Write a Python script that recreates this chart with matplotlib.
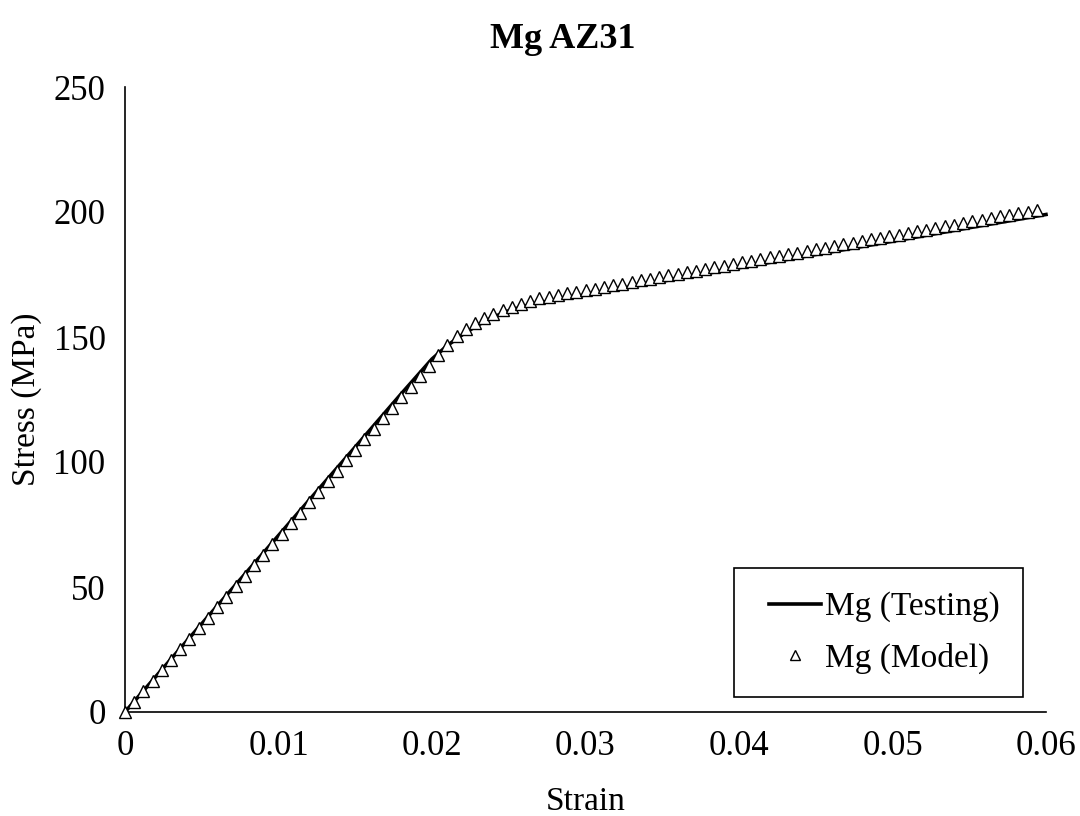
import matplotlib
matplotlib.use("Agg")
import matplotlib.pyplot as plt
from matplotlib.legend_handler import HandlerLine2D

plt.rcParams['font.family'] = ['Liberation Serif', 'DejaVu Serif']

# Testing curve (strain, stress MPa)
test_strain = [0, 0.005, 0.010, 0.015, 0.018, 0.020, 0.021, 0.022, 0.023, 0.024,
               0.025, 0.026, 0.027, 0.028, 0.030, 0.035, 0.040, 0.045, 0.050,
               0.055, 0.060]
test_stress = [0, 35.3, 70.6, 106.0, 127.3, 141.2, 146.6, 151.0, 154.8, 158.0,
               160.5, 162.3, 163.7, 164.8, 166.8, 172.3, 177.7, 183.0, 188.3,
               193.7, 199.0]

# Model points
model_strain = [0.0000, 0.0006, 0.0012, 0.0018, 0.0024, 0.0030, 0.0036, 0.0042, 0.0048, 0.0054,
                0.0060, 0.0066, 0.0072, 0.0078, 0.0084, 0.0090, 0.0096, 0.0102, 0.0108, 0.0114,
                0.0120, 0.0126, 0.0132, 0.0138, 0.0144, 0.0150, 0.0156, 0.0162, 0.0168, 0.0174,
                0.0180, 0.0186, 0.0192, 0.0198, 0.0204, 0.0210, 0.0216, 0.0222, 0.0228, 0.0234,
                0.0240, 0.0246, 0.0252, 0.0258, 0.0264, 0.0270, 0.0276, 0.0282, 0.0288, 0.0294,
                0.0300, 0.0306, 0.0312, 0.0318, 0.0324, 0.0330, 0.0336, 0.0342, 0.0348, 0.0354,
                0.0360, 0.0366, 0.0372, 0.0378, 0.0384, 0.0390, 0.0396, 0.0402, 0.0408, 0.0414,
                0.0420, 0.0426, 0.0432, 0.0438, 0.0444, 0.0450, 0.0456, 0.0462, 0.0468, 0.0474,
                0.0480, 0.0486, 0.0492, 0.0498, 0.0504, 0.0510, 0.0516, 0.0522, 0.0528, 0.0534,
                0.0540, 0.0546, 0.0552, 0.0558, 0.0564, 0.0570, 0.0576, 0.0582, 0.0588, 0.0594]
model_stress = [0.0, 4.2, 8.4, 12.6, 16.8, 21.0, 25.2, 29.4, 33.6, 37.8,
                42.0, 46.2, 50.4, 54.6, 58.8, 63.0, 67.2, 71.4, 75.6, 79.8,
                84.0, 88.2, 92.4, 96.6, 100.8, 105.0, 109.2, 113.4, 117.6, 121.8,
                126.0, 130.2, 134.4, 138.6, 142.8, 147.0, 150.6, 153.4, 155.7, 157.7,
                159.4, 160.9, 162.1, 163.2, 164.4, 165.5, 166.2, 166.8, 167.5, 168.1,
                168.8, 169.4, 170.1, 170.7, 171.4, 172.1, 172.7, 173.4, 174.0, 174.7,
                175.3, 176.0, 176.6, 177.3, 177.9, 178.6, 179.3, 179.9, 180.6, 181.2,
                181.9, 182.5, 183.2, 183.8, 184.5, 185.2, 185.8, 186.5, 187.1, 187.8,
                188.4, 189.1, 189.7, 190.4, 191.0, 191.7, 192.4, 193.0, 193.7, 194.3,
                195.0, 195.6, 196.3, 196.9, 197.6, 198.3, 198.9, 199.6, 200.2, 200.9]

x_ticks = [0, 0.01, 0.02, 0.03, 0.04, 0.05, 0.06]
x_tick_labels = ['0', '0.01', '0.02', '0.03', '0.04', '0.05', '0.06']
y_ticks = [0, 50, 100, 150, 200, 250]

fig = plt.figure(figsize=(10.8, 8.16), dpi=100)
ax = fig.add_axes([125/1080, 1-712/816, (1046-125)/1080, (712-87)/816])

ax.plot(test_strain, test_stress, color='black', lw=2.6, label='Mg (Testing)', zorder=2)
ax.plot(model_strain, model_stress, linestyle='none', marker='^', markersize=8,
        markerfacecolor='white', markeredgecolor='black', markeredgewidth=1.0,
        label='Mg (Model)', zorder=3)

ax.set_xlim(0, 0.06)
ax.set_ylim(0, 250)
ax.set_xticks(x_ticks)
ax.set_xticklabels(x_tick_labels)
ax.set_yticks(y_ticks)
ax.tick_params(axis='x', length=0, labelsize=25, pad=13)
ax.tick_params(axis='y', length=0, labelsize=25, pad=14)
for s in ['top', 'right']:
    ax.spines[s].set_visible(False)
for s in ['left', 'bottom']:
    ax.spines[s].set_linewidth(1.2)
    ax.spines[s].set_color('black')
for ln in ax.lines:
    ln.set_clip_on(False)

ax.set_xlabel('Strain', fontsize=24, labelpad=17)
ax.set_ylabel('Stress (MPa)', fontsize=24, labelpad=8)

fig.text(563/1080, 1-40/816, 'Mg AZ31', fontsize=26, fontweight='bold',
         ha='center', va='center')

leg = ax.legend(loc='lower right', bbox_to_anchor=(0.975, 0.024), fontsize=24,
                frameon=True, fancybox=False, edgecolor='black', framealpha=1,
                handlelength=1.9, handletextpad=0.12, borderpad=0.7,
                labelspacing=0.6, borderaxespad=0,
                handler_map={ax.lines[0]: HandlerLine2D(xpad=0.33),
                             ax.lines[1]: HandlerLine2D(xpad=0.33)})
leg.get_frame().set_linewidth(1.2)
leg.legend_handles[1].set_markersize(7)

fig.savefig('out.png', dpi=100)
